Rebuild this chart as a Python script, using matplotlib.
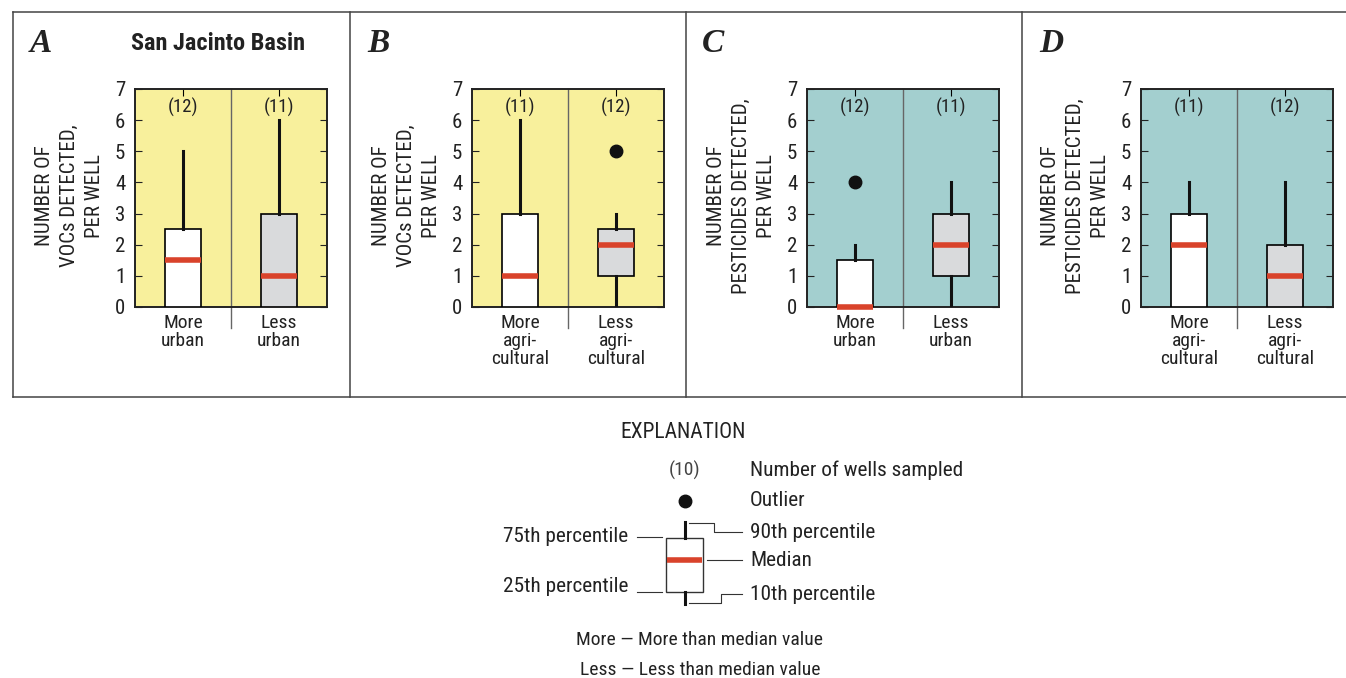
import matplotlib.pyplot as plt
from matplotlib.patches import Rectangle

plt.rcParams['font.family'] = ['Roboto Condensed', 'Liberation Sans']

W, H = 1346, 678

# data
letters = ['A', 'B', 'C', 'D']
ylabels = ['NUMBER OF\nVOCs DETECTED,\nPER WELL',
           'NUMBER OF\nVOCs DETECTED,\nPER WELL',
           'NUMBER OF\nPESTICIDES DETECTED,\nPER WELL',
           'NUMBER OF\nPESTICIDES DETECTED,\nPER WELL']
cats = [['More\nurban', 'Less\nurban'],
        ['More\nagri-\ncultural', 'Less\nagri-\ncultural'],
        ['More\nurban', 'Less\nurban'],
        ['More\nagri-\ncultural', 'Less\nagri-\ncultural']]
counts = [[12, 11], [11, 12], [12, 11], [11, 12]]
# (p10, p25, median, p75, p90)
q10 = [[0, 0], [0, 0], [0, 0], [0, 0]]
q25 = [[0, 0], [0, 1], [0, 1], [0, 0]]
med = [[1.5, 1], [1, 2], [0, 2], [2, 1]]
q75 = [[2.5, 3], [3, 2.5], [1.5, 3], [3, 2]]
q90 = [[5, 6], [6, 3], [2, 4], [4, 4]]
outliers = [[[], []], [[], [5]], [[4], []], [[], []]]
bg = ['#F8F09C', '#F8F09C', '#A3CFCF', '#A3CFCF']

BOX_FACE = ['white', '#D9DADC']
RED = '#D9432B'
TC = '#222222'

fig = plt.figure(figsize=(W / 100, H / 100), dpi=100)

# outer frame
frame = dict(color='#444444', lw=1.1, transform=fig.transFigure)
fig.add_artist(plt.Line2D([13 / W, 1], [1 - 12 / H, 1 - 12 / H], **frame))
fig.add_artist(plt.Line2D([13 / W, 1], [1 - 397 / H, 1 - 397 / H], **frame))
for xd in [13, 350, 686, 1022]:
    fig.add_artist(plt.Line2D([xd / W, xd / W], [1 - 12 / H, 1 - 397 / H], **frame))

ax_left = [135, 472, 807, 1141]
ax_w, ax_top, ax_bot = 192, 89, 307

for i in range(4):
    ax = fig.add_axes([ax_left[i] / W, 1 - ax_bot / H, ax_w / W, (ax_bot - ax_top) / H])
    ax.set_facecolor(bg[i])
    stats = []
    for j in range(2):
        stats.append(dict(whislo=q10[i][j], q1=q25[i][j], med=med[i][j],
                          q3=q75[i][j], whishi=q90[i][j], fliers=outliers[i][j]))
    bp = ax.bxp(stats, positions=[0.5, 1.5], widths=0.385, patch_artist=True,
                showcaps=False, zorder=3,
                boxprops=dict(edgecolor='black', linewidth=1.2),
                whiskerprops=dict(color='#111111', linewidth=2.2),
                medianprops=dict(color=RED, linewidth=4, solid_capstyle='butt'),
                flierprops=dict(marker='o', markerfacecolor='#111111',
                                markeredgecolor='#111111', markersize=9))
    for j, box in enumerate(bp['boxes']):
        box.set_facecolor(BOX_FACE[j])
    for m in bp['medians']:
        m.set_clip_on(False)
        m.set_zorder(4)
    ax.plot([1, 1], [-0.68, 7], color='#666666', lw=1.0, clip_on=False, zorder=2)
    for j in range(2):
        ax.text(0.5 + j, 6.4, '(%d)' % counts[i][j], ha='center', va='center',
                fontsize=13.5, color=TC)
    ax.set_xlim(0, 2)
    ax.set_ylim(0, 7)
    ax.set_yticks(range(8))
    ax.tick_params(axis='y', left=True, right=True, direction='in',
                   length=5, labelsize=15, pad=7, colors=TC)
    ax.set_xticks([0.5, 1.5])
    ax.set_xticklabels(cats[i], fontsize=14, linespacing=1.0, color=TC)
    ax.tick_params(axis='x', bottom=False, top=True, direction='in', length=5, pad=5)
    for s in ax.spines.values():
        s.set_linewidth(1.4)
        s.set_color(TC)
    ax.text(-0.34, 0.51, ylabels[i], transform=ax.transAxes, rotation=90,
            ha='center', va='center', fontsize=15, linespacing=1.4,
            multialignment='center', color=TC)
    lx = [30, 367, 702, 1039][i]
    fig.text(lx / W, 1 - 43 / H, letters[i], fontsize=24, fontweight='bold',
             fontstyle='italic', family='Liberation Serif', ha='left', va='center',
             color=TC)

fig.text(218 / W, 1 - 44 / H, 'San Jacinto Basin', fontsize=17.5, fontweight='bold',
         ha='center', va='center', color=TC)

# explanation
lg = fig.add_axes([0, 0, 1, 1])
lg.set_xlim(0, W)
lg.set_ylim(H, 0)
lg.axis('off')
fs = 15.3
lg.text(683, 433, 'EXPLANATION', ha='center', va='center', fontsize=15.5, color=TC)
lg.text(685, 470, '(10)', ha='center', va='center', fontsize=14, color='#444444')
lg.text(750, 470, 'Number of wells sampled', ha='left', va='center', fontsize=fs, color=TC)
lg.plot([685], [501], 'o', color='#111111', markersize=9)
lg.text(750, 501, 'Outlier', ha='left', va='center', fontsize=fs, color=TC)
lg.add_patch(Rectangle((666, 538), 37, 54, facecolor='white', edgecolor='#333333', lw=1.0))
lg.plot([667, 702], [560, 560], color=RED, lw=4, solid_capstyle='butt')
lg.plot([685, 685], [522, 538], color='#111111', lw=2.2)
lg.plot([685, 685], [592, 604], color='#111111', lw=2.2)
lc = dict(color='#333333', lw=0.8)
lg.plot([689, 714, 714, 742], [523, 523, 532, 532], **lc)
lg.plot([707, 742], [560, 560], **lc)
lg.plot([689, 721, 721, 742], [603, 603, 594, 594], **lc)
lg.plot([637, 662], [537, 537], **lc)
lg.plot([637, 662], [592, 592], **lc)
lg.text(750, 532, '90th percentile', ha='left', va='center', fontsize=fs, color=TC)
lg.text(750, 560, 'Median', ha='left', va='center', fontsize=fs, color=TC)
lg.text(750, 594, '10th percentile', ha='left', va='center', fontsize=fs, color=TC)
lg.text(628, 537, '75th percentile', ha='right', va='center', fontsize=fs, color=TC)
lg.text(628, 586, '25th percentile', ha='right', va='center', fontsize=fs, color=TC)
lg.text(700, 640, 'More \u2014 More than median value', ha='center', va='center',
        fontsize=14, color=TC)
lg.text(700, 670, 'Less \u2014 Less than median value', ha='center', va='center',
        fontsize=14, color=TC)

fig.savefig('out.png', dpi=100)
